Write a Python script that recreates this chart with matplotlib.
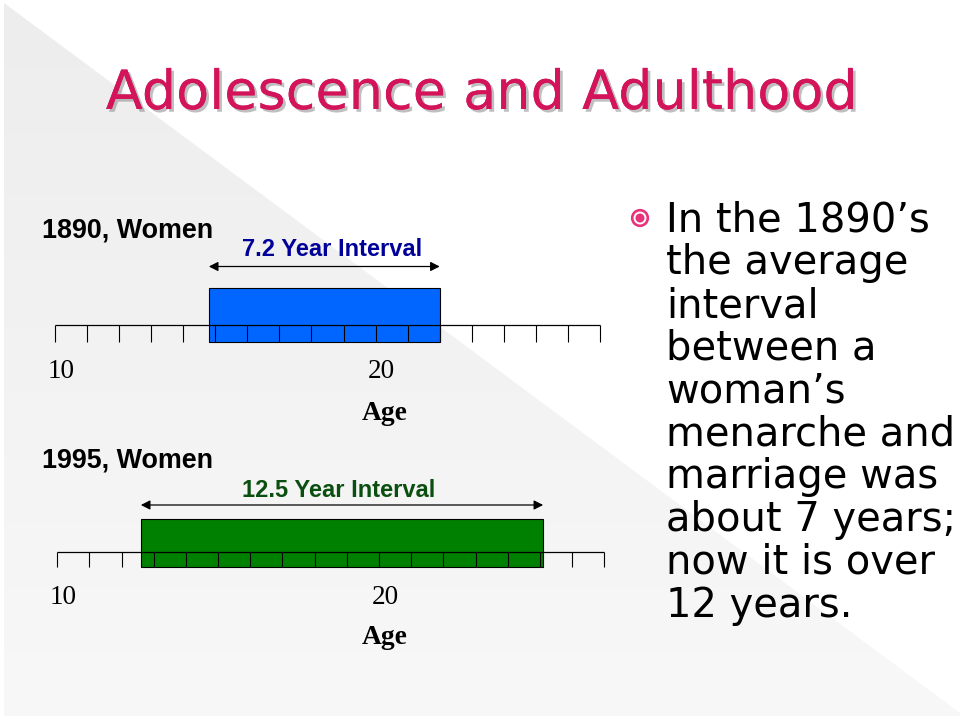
import numpy as np
import matplotlib
matplotlib.use("Agg")
import matplotlib.pyplot as plt
from matplotlib.patches import Circle, Polygon
from matplotlib.colors import LinearSegmentedColormap
from matplotlib.transforms import offset_copy
from matplotlib import patheffects

# --- data ---
years = ["1890", "1995"]
menarche = [14.8, 12.6]          # age at start of bar
marriage = [22.0, 25.1]          # age at end of bar
interval_labels = ["7.2 Year Interval", "12.5 Year Interval"]
bar_colors = ["#0066ff", "#008000"]
label_colors = ["#000099", "#0b4f10"]
age_min, age_max = 10, 27
age_ticks = np.arange(age_min, age_max + 1)
age_labels = [10, 20]

title = "Adolescence and Adulthood"
bullet_lines = ["In the 1890\u2019s", "the average", "interval", "between a",
                "woman\u2019s", "menarche and", "marriage was",
                "about 7 years;", "now it is over", "12 years."]

W, H = 960, 720
fig = plt.figure(figsize=(9.6, 7.2), dpi=100)
bg = fig.add_axes([0, 0, 1, 1])
bg.axis("off")

# slide background: white with grey diagonal wedge bottom-left
grad = np.linspace(0, 1, 256).reshape(-1, 1)
cmap = LinearSegmentedColormap.from_list("bg", ["#ededed", "#f8f8f8"])
img = bg.imshow(grad, cmap=cmap, extent=[0, W, H, 0], aspect="auto", zorder=0)
wedge = Polygon([(4, 3), (W, 713), (W, 716), (4, 716)], closed=True,
                facecolor="none", edgecolor="none")
bg.add_patch(wedge)
img.set_clip_path(wedge)
bg.set_xlim(0, W)
bg.set_ylim(H, 0)

renderer = fig.canvas.get_renderer()


def fit_size(txt, target, **kw):
    t = fig.text(0, 0, txt, size=20, **kw)
    w = t.get_window_extent(renderer=renderer).width
    t.remove()
    return 20 * target / w


# title
tsize = fit_size(title, 751, family="DejaVu Sans")
bg.text(481.5, 109, title, ha="center", va="baseline", family="DejaVu Sans",
        size=tsize, color="#d4145a",
        path_effects=[patheffects.withSimplePatchShadow(offset=(2, -2), shadow_rgbFace="#808080", alpha=0.5),
                      patheffects.Normal()])

# bullet text
bsize = fit_size("menarche and", 289, family="DejaVu Sans")
for i, line in enumerate(bullet_lines):
    bg.text(666, 231.5 + i * 42.8, line, ha="left", va="baseline",
            family="DejaVu Sans", size=bsize, color="black")
bg.add_patch(Circle((640, 218), 7.8, facecolor="white", edgecolor="#e8337a", lw=1.9))
bg.add_patch(Circle((640, 218), 4.5, facecolor="#e8337a", edgecolor="none"))

# timelines
rows = [
    dict(x0=55, x1=600, axis_y=325, bar_top=288, tick_bot=342, arrow_y=266.5,
         year_y=238, int_x=332.5, int_y=256.5, num_y=371, age_y=413),
    dict(x0=57.2, x1=604.3, axis_y=551.7, bar_top=519, tick_bot=567, arrow_y=505,
         year_y=468, int_x=338.5, int_y=497, num_y=597, age_y=637),
]

for i, r in enumerate(rows):
    ax = fig.add_axes([r["x0"] / W, 0, (r["x1"] - r["x0"]) / W, 1])
    ax.set_xlim(age_min, age_max)
    ax.set_ylim(H, 0)
    ax.axis("off")
    ax.patch.set_alpha(0)

    ax.barh((r["bar_top"] + r["tick_bot"]) / 2, marriage[i] - menarche[i], left=menarche[i],
            height=r["tick_bot"] - r["bar_top"], color=bar_colors[i],
            edgecolor="black", linewidth=0.8, zorder=2)
    ax.hlines(r["axis_y"], age_min, age_max, color="black", lw=0.9, zorder=3, clip_on=False)
    ax.vlines(age_ticks, r["axis_y"], r["tick_bot"], color="black", lw=0.8, zorder=3, clip_on=False)

    ax.annotate("", xy=(menarche[i], r["arrow_y"]), xytext=(marriage[i], r["arrow_y"]),
                arrowprops=dict(arrowstyle="<|-|>,head_length=0.55,head_width=0.28",
                                mutation_scale=10, color="black", lw=0.9,
                                shrinkA=0, shrinkB=0))

    tr = offset_copy(ax.transData, fig=fig, x=6, y=0, units="dots")
    for a in age_labels:
        ax.text(a, r["num_y"], str(a), transform=tr, ha="center", va="center",
                family="Liberation Serif", size=19.5, color="black")

    bg.text(42, r["year_y"], years[i] + ", Women", ha="left", va="baseline",
            family="Liberation Sans", weight="bold", size=19.4, color="black")
    bg.text(r["int_x"], r["int_y"], interval_labels[i], ha="center", va="baseline",
            family="Liberation Sans", weight="bold", size=17, color=label_colors[i])
    bg.text(385, r["age_y"], "Age", ha="center", va="center",
            family="Liberation Serif", weight="bold", size=19.8, color="black")

fig.savefig("out.png", dpi=100)
